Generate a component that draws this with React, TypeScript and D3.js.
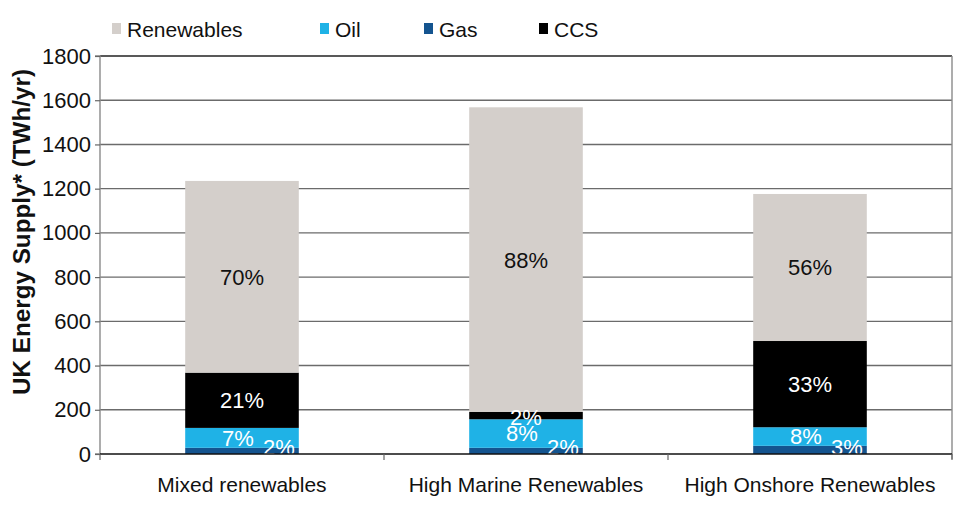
import React, { useEffect, useRef } from 'react';
import * as d3 from 'd3';

const categories = ['Mixed renewables', 'High Marine Renewables', 'High Onshore Renewables'];
const seriesNames = ['Gas', 'Oil', 'CCS', 'Renewables'];
const gasValues = [28, 28, 37];
const oilValues = [90, 129, 84];
const ccsValues = [250, 33, 390];
const renewablesValues = [867, 1378, 665];
const gasLabels = ['2%', '2%', '3%'];
const oilLabels = ['7%', '8%', '8%'];
const ccsLabels = ['21%', '2%', '33%'];
const renewablesLabels = ['70%', '88%', '56%'];
const yTicks = [0, 200, 400, 600, 800, 1000, 1200, 1400, 1600, 1800];
const legendOrder = ['Renewables', 'Oil', 'Gas', 'CCS'];

const colors: { [k: string]: string } = {
  Renewables: '#d4cfcb',
  Oil: '#1fb2e6',
  Gas: '#14548f',
  CCS: '#000000',
};

const FONT = '"Liberation Sans", Arial, Helvetica, sans-serif';

const App: React.FC = () => {
  const svgRef = useRef<SVGSVGElement>(null);

  useEffect(() => {
    if (!svgRef.current) return;
    const svg = d3.select(svgRef.current);
    svg.selectAll('*').remove();

    const left = 100, right = 952, top = 56, bottom = 454;

    const x = d3.scaleBand<string>().domain(categories).range([left, right]).paddingInner(0.6).paddingOuter(0.3);
    const band = d3.scaleBand<string>().domain(categories).range([left, right]);
    const y = d3.scaleLinear().domain([0, 1800]).range([bottom, top]);

    // gridlines
    svg.append('g')
      .selectAll('line')
      .data(yTicks.filter(t => t > 0))
      .enter()
      .append('line')
      .attr('x1', left).attr('x2', right)
      .attr('y1', d => y(d)).attr('y2', d => y(d))
      .attr('stroke', d => (d === 1800 ? '#222' : '#6b6b6b'))
      .attr('stroke-width', 1.4);

    // right border
    svg.append('line')
      .attr('x1', right).attr('x2', right).attr('y1', top).attr('y2', bottom + 5)
      .attr('stroke', '#8a8a8a').attr('stroke-width', 1.4);

    // stacked data
    const rows = categories.map((c, i) => ({
      cat: c,
      Gas: gasValues[i],
      Oil: oilValues[i],
      CCS: ccsValues[i],
      Renewables: renewablesValues[i],
    }));
    const stack = d3.stack<any>().keys(seriesNames);
    const layers = stack(rows);

    const labelMap: { [k: string]: string[] } = {
      Gas: gasLabels,
      Oil: oilLabels,
      CCS: ccsLabels,
      Renewables: renewablesLabels,
    };

    layers.forEach(layer => {
      svg.append('g')
        .selectAll('rect')
        .data(layer)
        .enter()
        .append('rect')
        .attr('x', d => x(d.data.cat)!)
        .attr('width', x.bandwidth())
        .attr('y', d => y(d[1]))
        .attr('height', d => y(d[0]) - y(d[1]))
        .attr('fill', colors[layer.key]);
    });

    // value labels (small segments nudged like Excel does)
    layers.forEach(layer => {
      const key = layer.key;
      svg.append('g')
        .selectAll('text')
        .data(layer)
        .enter()
        .append('text')
        .attr('x', d => {
          const cx = x(d.data.cat)! + x.bandwidth() / 2;
          if (key === 'Gas') return cx + 37;
          if (key === 'Oil') return cx - 4;
          return cx;
        })
        .attr('y', d => {
          const mid = (y(d[0]) + y(d[1])) / 2;
          if (key === 'Gas') return y(0) - 7;
          if (key === 'CCS' && y(d[0]) - y(d[1]) < 20) return mid + 1;
          return mid;
        })
        .attr('dy', '0.36em')
        .attr('text-anchor', 'middle')
        .attr('font-family', FONT)
        .attr('font-size', 22)
        .attr('fill', key === 'Renewables' ? '#111' : '#ffffff')
        .text((_d, i) => labelMap[key][i]);
    });

    // y axis
    const yAxis = svg.append('g').attr('transform', `translate(${left},0)`)
      .call(d3.axisLeft(y).tickValues(yTicks).tickSize(5).tickFormat(d3.format('d')));
    yAxis.select('.domain').attr('stroke', '#8a8a8a').attr('stroke-width', 1.4).attr('d', `M-5,${top}H0V${bottom}H-5`);
    yAxis.selectAll('.tick line').attr('stroke', '#666').attr('stroke-width', 1.2);
    yAxis.selectAll('.tick text')
      .attr('font-family', FONT).attr('font-size', 22).attr('fill', '#111').attr('x', -9);

    // x axis
    svg.append('line')
      .attr('x1', left).attr('x2', right).attr('y1', bottom).attr('y2', bottom)
      .attr('stroke', '#111').attr('stroke-width', 1.4);
    const sepTicks = [left, ...categories.map(c => band(c)! + band.bandwidth())];
    svg.append('g')
      .selectAll('line')
      .data(sepTicks)
      .enter()
      .append('line')
      .attr('x1', d => d).attr('x2', d => d)
      .attr('y1', bottom).attr('y2', bottom + 6)
      .attr('stroke', '#666').attr('stroke-width', 1.2);
    svg.append('g')
      .selectAll('text')
      .data(categories)
      .enter()
      .append('text')
      .attr('x', d => band(d)! + band.bandwidth() / 2)
      .attr('y', 492)
      .attr('text-anchor', 'middle')
      .attr('font-family', FONT)
      .attr('font-size', 21)
      .attr('fill', '#111')
      .text(d => d);

    // y title
    svg.append('text')
      .attr('transform', `translate(30,232) rotate(-90)`)
      .attr('text-anchor', 'middle')
      .attr('font-family', FONT)
      .attr('font-size', 23)
      .attr('font-weight', 'bold')
      .attr('fill', '#111')
      .attr('textLength', 326)
      .attr('lengthAdjust', 'spacingAndGlyphs')
      .text('UK Energy Supply* (TWh/yr)');

    // legend
    const legendX = [112, 320, 424, 539];
    const lg = svg.append('g')
      .selectAll('g')
      .data(legendOrder)
      .enter()
      .append('g')
      .attr('transform', (_d, i) => `translate(${legendX[i]},0)`);
    lg.append('rect')
      .attr('x', 0).attr('y', 23).attr('width', 9).attr('height', 11)
      .attr('fill', d => colors[d]);
    lg.append('text')
      .attr('x', 15).attr('y', 37)
      .attr('font-family', FONT)
      .attr('font-size', 21)
      .attr('fill', '#111')
      .text(d => d);
  }, []);

  return (
    <svg
      ref={svgRef}
      width={980}
      height={514}
      style={{ position: 'absolute', left: 0, top: 0, background: '#fff' }}
    />
  );
};

export default App;
